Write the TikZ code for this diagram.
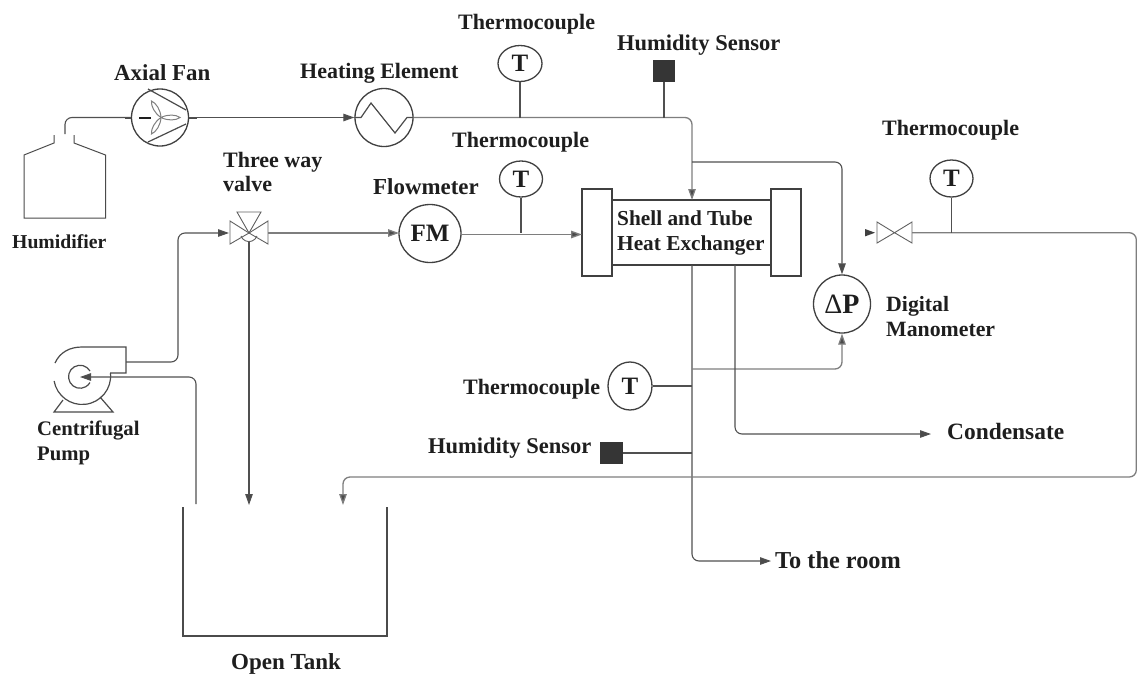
\documentclass[tikz,border=0pt]{standalone}
\usepackage{fontspec}
\setmainfont{Liberation Serif}
\usetikzlibrary{arrows.meta,calc,shapes.geometric}
\definecolor{pipe}{HTML}{505050}
\definecolor{pipelight}{HTML}{7E7E7E}
\definecolor{ink}{HTML}{1E1E1E}
\newcommand{\lblfont}[1]{\fontsize{#1}{24.5}\selectfont\bfseries}
\tikzset{
  pipeline/.style={draw=pipe,line width=1.1pt,rounded corners=7pt},
  flow/.style={pipeline,-{Triangle[length=11pt,width=7.5pt,fill=ink!80]}},
  lightflow/.style={flow,draw=pipelight,line width=1.3pt},
  stem/.style={draw=pipe,line width=1.2pt},
  outline/.style={draw=ink!80,line width=1.2pt},
  thinout/.style={draw=ink!70,line width=.9pt},
  label/.style={text=ink,inner sep=0pt,align=left,font=\lblfont{22}},
  instr/.style={ellipse,draw=ink!85,line width=1.3pt,fill=white,inner sep=0pt,text=ink,font=\lblfont{25}},
  sensorbox/.style={rectangle,fill=ink!90,draw=none,minimum size=22.5pt,inner sep=0pt},
  thickbox/.style={rectangle,draw=ink!85,line width=1.7pt,fill=white,inner sep=0pt},
}
\begin{document}
\begin{tikzpicture}[x=1pt,y=-1pt]
\useasboundingbox (0,0) rectangle (1137,675);
\fill[white] (0,0) rectangle (1137,675);

% heat exchanger
\node[thickbox,minimum width=159pt,minimum height=65pt] (shell) at (691.5,232.5) {};
\node[thickbox,minimum width=30pt,minimum height=87pt] (flangeL) at (597,232.5) {};
\node[thickbox,minimum width=30pt,minimum height=87pt] (flangeR) at (786,232.5) {};
\node[label,anchor=west,font=\lblfont{21.3}] (hxtext) at (617,233) {Shell and Tube\\Heat Exchanger};

% humidifier
\coordinate (humidout) at (65,134);
\draw[outline,line width=1pt] (54,135) -- (54,143) -- (24,155) -- (24,218) -- (105.5,218) -- (105.5,155) -- (74,143) -- (74,135);

% fan
\node[instr,minimum width=57pt,minimum height=57pt] (fan) at (160,117.5) {};
\draw[outline] (148,89) -- (186,110) (148,142) -- (186,124);
\draw[draw=ink,line width=2pt] (139,117.5) -- (151,117.5);
\draw[draw=ink!80,line width=2pt] (fan.west) -- ++(-6,0) (fan.east) -- ++(8,0);
\foreach \a in {0,120,240}
  \draw[draw=gray,line width=1pt,rotate around={\a:(161,117.5)}] (161,117.5) .. controls (168,114) and (176,114.5) .. (180,117.5) .. controls (176,120.5) and (168,121) .. (161,117.5);

% heater
\node[instr,minimum width=58pt,minimum height=58pt] (heater) at (384,117.5) {};
\draw[outline] (heater.west) -- (361,117.5) -- (371,103) -- (395,133) -- (407,117.5) -- (heater.east);

% instruments
\node[instr,minimum width=44pt,minimum height=36pt] (T1) at (520,63.5) {T};
\node[sensorbox] (H1) at (664,71) {};
\node[instr,minimum width=43pt,minimum height=36pt] (T2) at (521,179) {T};
\node[instr,minimum width=62pt,minimum height=58pt] (FM) at (430,233.5) {FM};
\node[instr,minimum width=43pt,minimum height=37pt] (T3) at (951.5,178.5) {T};
\node[instr,minimum width=57pt,minimum height=58pt,font=\lblfont{28}] (DP) at (842,304) {{\mdseries Δ}P};
\node[instr,minimum width=44pt,minimum height=48pt] (T4) at (630,386) {T};
\node[sensorbox] (H2) at (611.5,453) {};

% three way valve
\coordinate (V) at (249,233);
\coordinate (Vl) at (229,233);
\coordinate (Vr) at (268,233);
\coordinate (Vb) at (249,241.5);
\draw[thinout] (V) -- (230,221) -- (230,244) -- cycle;
\draw[thinout] (V) -- (268,221) -- (268,244) -- cycle;
\draw[thinout] (V) -- (237,212) -- (261,212) -- cycle;
\draw[thinout] (241,236) arc[start angle=160,end angle=20,radius=8.5];

% second valve
\coordinate (W) at (894.5,232.7);
\coordinate (Wl) at (877,232.7);
\coordinate (Wr) at (912,232.7);
\coordinate (WtipA) at (875,232.7);
\coordinate (WtipB) at (865,229);
\coordinate (WtipC) at (865,236.4);
\draw[thinout] (W) -- (877,222) -- (877,243) -- cycle;
\draw[thinout] (W) -- (912,222) -- (912,243) -- cycle;

% pump
\coordinate (pumpOut) at (126,362);
\coordinate (pumpIn) at (80,377);
\draw[outline] (55,363) .. controls (60,352) and (70,347) .. (82,347) -- (126,347) -- (126,373) -- (110,373);
\draw[outline] (110.5,373) arc[start angle=-6,end angle=170,radius=28.5];
\draw[outline] (90,371) arc[start angle=-30,end angle=-330,radius=11.5];
\draw[outline] (63,400) -- (54,412) -- (113,412) -- (100,397);

% tank
\coordinate (tankIn1) at (196,504);
\coordinate (tankIn2) at (249,505);
\coordinate (tankIn3) at (343,505);
\draw[outline,line width=1.5pt] (183,507) -- (183,636) -- (387,636) -- (387,507);

% junctions
\coordinate (J1) at (520,117.5);
\coordinate (J2) at (664,117.5);
\coordinate (Jtop) at (692,162);
\coordinate (Jin) at (692,200);
\coordinate (Jout) at (692,265);
\coordinate (J3) at (692,369);
\coordinate (J4) at (692,386);
\coordinate (J5) at (692,453);
\coordinate (Jc) at (735,265);
\coordinate (condEnd) at (931,434);
\coordinate (roomEnd) at (771,561);
\coordinate (T2j) at (521,233);
\coordinate (T3j) at (951.5,232.7);
\coordinate (fmOut) at (461,234.5);
\coordinate (hxIn) at (582,234.5);
\coordinate (fmIn) at (399,233);

% pipes
\draw[pipeline] (humidout) -- (65,117.5) -- (fan.west);
\draw[flow] (fan.east) -- (heater.west);
\draw[lightflow] (heater.east) -- (692,117.5) -- (Jin);
\draw[flow] (Jtop) -- (842,162) -- (DP.north);
\draw[flow] (Jout) -- (692,561) -- (roomEnd);
\draw[lightflow] (J3) -- (842,369) -- (DP.south);
\draw[flow] (Jc) -- (735,434) -- (condEnd);
\draw[flow] (pumpOut) -- (178,362) -- (178,233) -- (Vl);
\draw[lightflow] (Vr) -- (fmIn);
\draw[lightflow] (fmOut) -- (hxIn);
\draw[flow] (Vb) -- (tankIn2);
\draw[flow] (tankIn1) -- (196,377) -- (pumpIn);
\draw[lightflow] (Wr) -- (1136.3,232.7) -- (1136.3,477) -- (343,477) -- (tankIn3);
\fill[ink!85] (WtipA) -- (WtipB) -- (WtipC) -- cycle;

% stems
\draw[stem] (T1) -- (J1);
\draw[stem] (H1) -- (J2);
\draw[stem] (T2) -- (T2j);
\draw[stem] (T3) -- (T3j);
\draw[stem] (T4) -- (J4);
\draw[stem] (H2) -- (J5);

% labels
\node[label,anchor=west,font=\lblfont{22.9}] (l1) at (114,76) {\strut Axial Fan};
\node[label,anchor=west] (l2) at (300,74) {\strut Heating Element};
\node[label,anchor=west] (l3) at (458,25) {\strut Thermocouple};
\node[label,anchor=west,font=\lblfont{22.5}] (l4) at (617,46) {\strut Humidity Sensor};
\node[label,anchor=west] (l5) at (452,143) {\strut Thermocouple};
\node[label,anchor=west] (l6) at (882,131) {\strut Thermocouple};
\node[label,anchor=west,font=\lblfont{22.9}] (l7) at (373,190) {\strut Flowmeter};
\node[label,anchor=west] (l8) at (223,172) {Three way\\valve};
\node[label,anchor=west,font=\lblfont{19.7}] (l9) at (12,244) {\strut Humidifier};
\node[label,anchor=west,font=\lblfont{20.7}] (l10) at (37,443) {Centrifugal\\Pump};
\node[label,anchor=west,font=\lblfont{21.8}] (l11) at (886,316.5) {Digital\\Manometer};
\node[label,anchor=west] (l12) at (463,390) {\strut Thermocouple};
\node[label,anchor=west,font=\lblfont{22.5}] (l13) at (428,449) {\strut Humidity Sensor};
\node[label,anchor=west,font=\lblfont{23.4}] (l14) at (947,435) {\strut Condensate};
\node[label,anchor=west,font=\lblfont{24.3}] (l15) at (775,564) {\strut To the room};
\node[label,anchor=west,font=\lblfont{23}] (l16) at (231,665) {\strut Open Tank};
\end{tikzpicture}
\end{document}
